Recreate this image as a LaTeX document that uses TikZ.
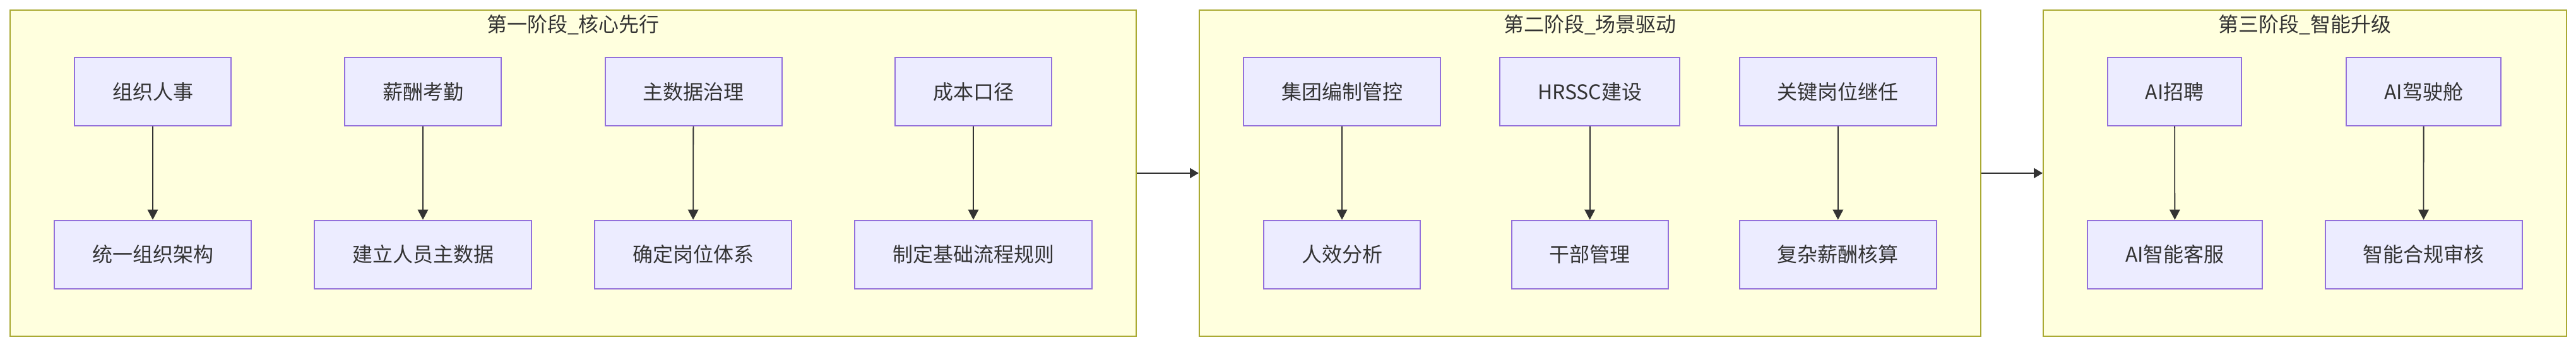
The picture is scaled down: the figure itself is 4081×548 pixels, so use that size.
\documentclass[tikz,border=0pt]{standalone}
\usepackage{fontspec}
\setmainfont{Noto Sans CJK SC}
\usetikzlibrary{arrows.meta}

\definecolor{stagefill}{HTML}{FFFFDE}
\definecolor{stageborder}{HTML}{AAAA33}
\definecolor{taskfill}{HTML}{ECECFF}
\definecolor{taskborder}{HTML}{9370DB}
\definecolor{txtgray}{HTML}{333333}

\begin{document}
\begin{tikzpicture}[
    x=0.5pt, y=-0.5pt,
    stage/.style={
        rectangle, draw=stageborder, fill=stagefill, line width=1pt,
        minimum height=258pt, inner sep=0pt
    },
    phasetitle/.style={
        font=\fontsize{16pt}{19pt}\selectfont, text=txtgray, inner sep=0pt
    },
    task/.style={
        rectangle, draw=taskborder, fill=taskfill, line width=1pt,
        minimum height=54pt, inner xsep=30pt,
        font=\fontsize{16pt}{19pt}\selectfont, text=txtgray
    },
    flow/.style={-{Triangle[length=8pt, width=8.2pt]}, draw=txtgray, line width=0.9pt},
    stageflow/.style={-{Triangle[length=7pt, width=8pt]}, draw=txtgray, line width=1pt}
]
\useasboundingbox (0,0) rectangle (4081,548);

% ==================== STAGES ====================
\node[stage, minimum width=892pt] (s1) at (908,273.9) {};
\node[stage, minimum width=619pt] (s2) at (2519,273.9) {};
\node[stage, minimum width=414.5pt] (s3) at (3651.5,273.9) {};

\node[phasetitle] (t1) at (908,39) {第一阶段\_核心先行};
\node[phasetitle] (t2) at (2519,39) {第二阶段\_场景驱动};
\node[phasetitle] (t3) at (3651.5,39) {第三阶段\_智能升级};

% ==================== TASKS ====================
% Stage 1
\node[task] (org) at (242,145) {组织人事};
\node[task] (pay) at (670,145) {薪酬考勤};
\node[task] (mdm) at (1098.5,145) {主数据治理};
\node[task] (cost) at (1542,145) {成本口径};
\node[task] (uniorg) at (242,402.7) {统一组织架构};
\node[task] (staffmd) at (670,402.7) {建立人员主数据};
\node[task] (posts) at (1098,402.7) {确定岗位体系};
\node[task] (rules) at (1542,402.7) {制定基础流程规则};

% Stage 2
\node[task] (quota) at (2126,145) {集团编制管控};
\node[task] (hrssc) at (2518.6,145) {HRSSC建设};
\node[task] (succ) at (2911.8,145) {关键岗位继任};
\node[task] (effic) at (2126,402.7) {人效分析};
\node[task] (cadre) at (2518.6,402.7) {干部管理};
\node[task] (comppay) at (2911.8,402.7) {复杂薪酬核算};

% Stage 3
\node[task] (airecruit) at (3445,145) {AI招聘};
\node[task] (aicockpit) at (3839.6,145) {AI驾驶舱};
\node[task] (aiservice) at (3445.5,402.7) {AI智能客服};
\node[task] (compliance) at (3839.5,402.7) {智能合规审核};

% ==================== ARROWS ====================
\draw[flow] (org) -- (uniorg);
\draw[flow] (pay) -- (staffmd);
\draw[flow] (mdm) -- (posts);
\draw[flow] (cost) -- (rules);

\draw[flow] (quota) -- (effic);
\draw[flow] (hrssc) -- (cadre);
\draw[flow] (succ) -- (comppay);

\draw[flow] (airecruit) -- (aiservice);
\draw[flow] (aicockpit) -- (compliance);

% between stages
\draw[stageflow] (s1) -- (s2);
\draw[stageflow] (s2) -- (s3);

\end{tikzpicture}
\end{document}
